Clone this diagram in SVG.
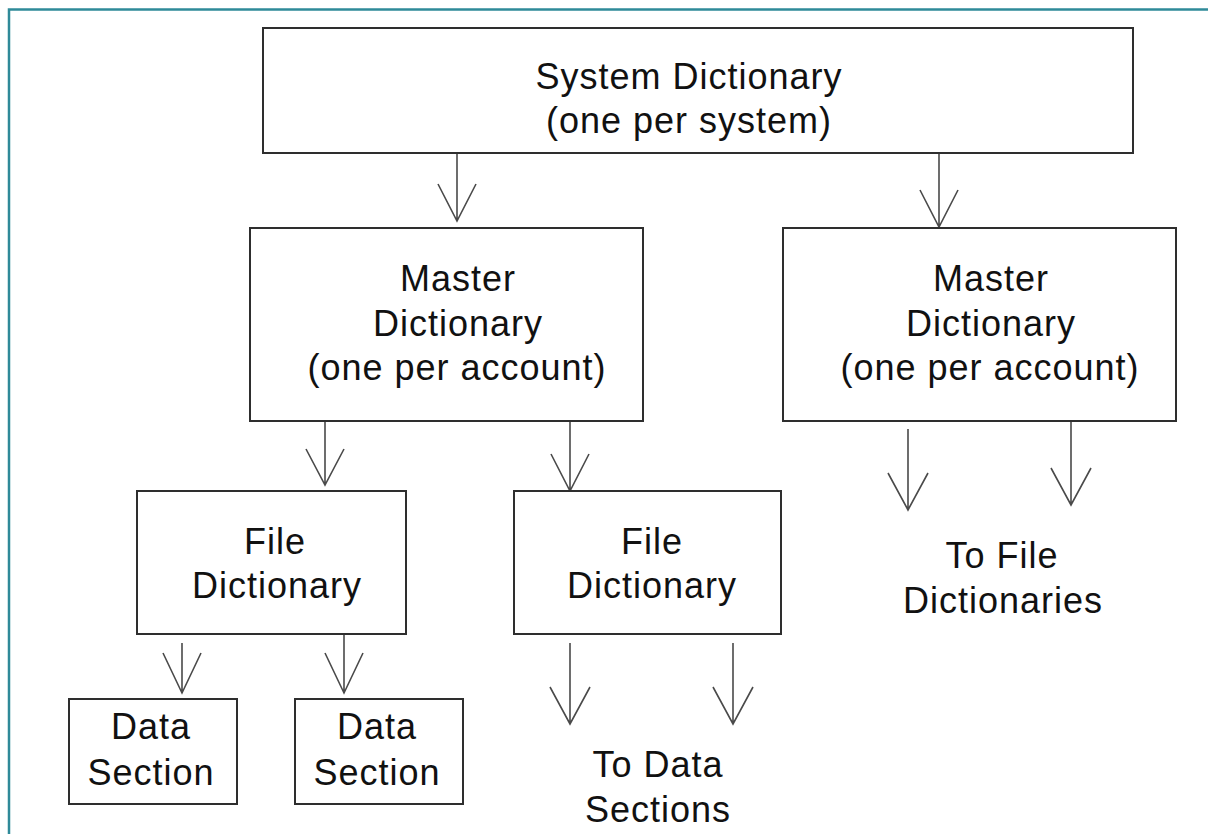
<svg xmlns="http://www.w3.org/2000/svg" width="1208" height="834" viewBox="0 0 1208 834">
  <style>
    .box { fill: #ffffff; stroke: #2e2e2e; stroke-width: 2; }
    .lbl { font-family: "Liberation Sans", Arial, sans-serif; font-size: 36px; letter-spacing: 1px; fill: #111111; text-anchor: middle; }
    .arw { fill: none; stroke: #4a4a4a; stroke-width: 1.6; stroke-linejoin: miter; }
    .frame { fill: none; stroke: #2f8a99; stroke-width: 2.5; }
  </style>
  <rect width="1208" height="834" fill="#ffffff"/>
  <!-- page frame (left and top edges) -->
  <path class="frame" d="M9,834 V9.5 H1208"/>

  <g id="connectors">
    <!-- system dictionary to master dictionaries -->
    <path class="arw" d="M457,153 V221 M438,184 L457,221 L476,184"/>
    <path class="arw" d="M939,153 V227 M920,190 L939,227 L958,190"/>
    <!-- master (left) to file dictionaries -->
    <path class="arw" d="M325,421 V485 M306,449 L325,485 L344,449"/>
    <path class="arw" d="M570,421 V491 M551,454 L570,491 L589,454"/>
    <!-- master (right) to further file dictionaries -->
    <path class="arw" d="M908,429 V510 M888,473 L908,510 L928,473"/>
    <path class="arw" d="M1071,421 V505 M1051,468 L1071,505 L1091,468"/>
    <!-- file (left) to data sections -->
    <path class="arw" d="M182,643 V693 M163,653 L182,693 L201,653"/>
    <path class="arw" d="M344,634 V693 M325,653 L344,693 L363,653"/>
    <!-- file (middle) to further data sections -->
    <path class="arw" d="M570,643 V724 M550,687 L570,724 L590,687"/>
    <path class="arw" d="M733,643 V724 M713,687 L733,724 L753,687"/>
  </g>

  <g id="system-dictionary">
    <rect class="box" x="263" y="28" width="870" height="125"/>
    <text class="lbl" x="689" y="89">System Dictionary</text>
    <text class="lbl" x="689" y="133">(one per system)</text>
  </g>

  <g id="master-dictionary-1">
    <rect class="box" x="250" y="228" width="393" height="193"/>
    <text class="lbl" x="458" y="291">Master</text>
    <text class="lbl" x="458" y="336">Dictionary</text>
    <text class="lbl" x="457" y="380">(one per account)</text>
  </g>

  <g id="master-dictionary-2">
    <rect class="box" x="783" y="228" width="393" height="193"/>
    <text class="lbl" x="991" y="291">Master</text>
    <text class="lbl" x="991" y="336">Dictionary</text>
    <text class="lbl" x="990" y="380">(one per account)</text>
  </g>

  <g id="file-dictionary-1">
    <rect class="box" x="137" y="491" width="269" height="143"/>
    <text class="lbl" x="275" y="554">File</text>
    <text class="lbl" x="277" y="598">Dictionary</text>
  </g>

  <g id="file-dictionary-2">
    <rect class="box" x="514" y="491" width="267" height="143"/>
    <text class="lbl" x="652" y="554">File</text>
    <text class="lbl" x="652" y="598">Dictionary</text>
  </g>

  <g id="data-section-1">
    <rect class="box" x="69" y="699" width="168" height="105"/>
    <text class="lbl" x="151" y="739">Data</text>
    <text class="lbl" x="151" y="785">Section</text>
  </g>

  <g id="data-section-2">
    <rect class="box" x="295" y="699" width="168" height="105"/>
    <text class="lbl" x="377" y="739">Data</text>
    <text class="lbl" x="377" y="785">Section</text>
  </g>

  <g id="to-data-sections">
    <text class="lbl" x="658" y="777">To Data</text>
    <text class="lbl" x="658" y="822">Sections</text>
  </g>

  <g id="to-file-dictionaries">
    <text class="lbl" x="1002" y="568">To File</text>
    <text class="lbl" x="1003" y="613">Dictionaries</text>
  </g>
</svg>
